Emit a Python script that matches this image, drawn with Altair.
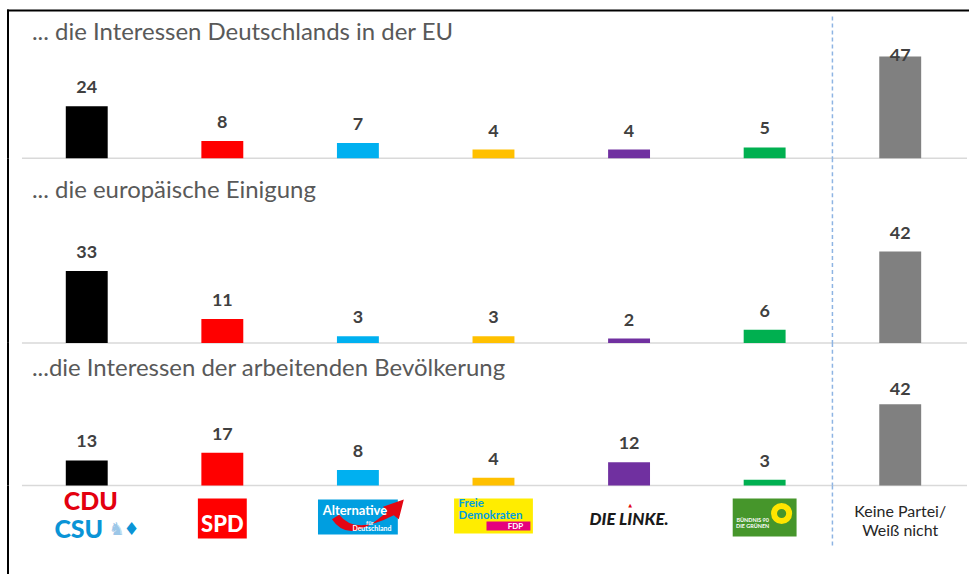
import altair as alt
import pandas as pd

# ---------------- data ----------------
categories = ["CDU/CSU", "SPD", "AfD", "FDP", "DIE LINKE", "GRÜNE", "Keine Partei/Weiß nicht"]
panel_titles = [
    "... die Interessen Deutschlands in der EU",
    "... die europäische Einigung",
    "...die Interessen der arbeitenden Bevölkerung",
]
values_eu = [24, 8, 7, 4, 4, 5, 47]
values_einigung = [33, 11, 3, 3, 2, 6, 42]
values_arbeit = [13, 17, 8, 4, 12, 3, 42]
bar_colors = ["#000000", "#FF0000", "#00B0F0", "#FFC000", "#7030A0", "#00B050", "#808080"]

# ---------------- layout ----------------
W = 964
FONT = "Lato"
xscale = alt.Scale(domain=categories, range=[12, 963], paddingInner=0, paddingOuter=0)
color = alt.Color("cat:N", scale=alt.Scale(domain=categories, range=bar_colors), legend=None)
one = pd.DataFrame({"k": [0]})


def xenc(**kw):
    return alt.X("cat:N", scale=xscale, axis=None, sort=categories, **kw)


def frame_left(h):
    return alt.Chart(one).mark_rule(color="black", strokeWidth=2).encode(
        x=alt.value(1), y=alt.value(0), y2=alt.value(h)
    )


def divider(df, top, bottom):
    last = categories[-1]
    return alt.Chart(df).transform_filter(alt.datum.cat == last).mark_rule(
        color="#8EB4E3", strokeDash=[4, 3], strokeWidth=1.5
    ).encode(x=xenc(bandPosition=0), y=alt.value(top), y2=alt.value(bottom))


def panel(vals, title, h, ppu, title_y, divider_top, top_frame=False):
    D = h / ppu
    df = pd.DataFrame({"cat": categories, "v": vals})
    yscale = alt.Scale(domain=[0, D], nice=False, zero=True)
    bars = alt.Chart(df).mark_bar(size=42).encode(
        x=xenc(), y=alt.Y("v:Q", scale=yscale, axis=None), color=color
    )
    labels = alt.Chart(df).transform_calculate(
        lp=f"min(datum.v, {D - 65 / ppu})"
    ).mark_text(dy=-18, fontSize=18, fontWeight="bold", color="#404040", font=FONT,
                baseline="middle").encode(
        x=xenc(bandPosition=0.5), y=alt.Y("lp:Q", scale=yscale, axis=None), text="v:Q"
    )
    baseline = alt.Chart(one).mark_rule(color="#D9D9D9", strokeWidth=1.5).encode(
        x=alt.value(15), x2=alt.value(962), y=alt.value(h)
    )
    ttl = alt.Chart(pd.DataFrame({"t": [title]})).mark_text(
        align="left", baseline="middle", fontSize=24, color="#595959", font=FONT
    ).encode(x=alt.value(25), y=alt.value(title_y), text="t:N")
    layers = [baseline, divider(df, divider_top, h), bars, labels, ttl, frame_left(h)]
    if top_frame:
        layers.append(alt.Chart(one).mark_rule(color="black", strokeWidth=2).encode(
            x=alt.value(0), x2=alt.value(W), y=alt.value(1)))
    return alt.layer(*layers).properties(width=W, height=h)


p1 = panel(values_eu, panel_titles[0], 149, 2.17, 23, 7, top_frame=True)
p2 = panel(values_einigung, panel_titles[1], 185, 2.18, 33, 0)
p3 = panel(values_arbeit, panel_titles[2], 143, 1.94, 26, 0)

# ---------------- logo row ----------------
LH = 89
cats = pd.DataFrame({"cat": categories})


def pick(name):
    return alt.Chart(cats).transform_filter(alt.datum.cat == name)


def box(name, y1, y2, w, col, xoff=0):
    return pick(name).mark_bar(size=w, color=col, xOffset=xoff).encode(
        x=xenc(), y=alt.value(y1), y2=alt.value(y2))


def txt(name, label, y, size, col, dx=0, weight="normal", style="normal", font=FONT, align="center"):
    return pick(name).mark_text(
        text=label, fontSize=size, color=col, dx=dx, fontWeight=weight, fontStyle=style,
        font=font, align=align, baseline="middle"
    ).encode(x=xenc(bandPosition=0.5), y=alt.value(y))


swoosh = "M-1,0.05 Q-0.5,0.8 0.55,-0.18 L0.42,-0.3 L1,-0.5 L0.86,0.05 L0.72,-0.06 Q-0.35,0.5 -0.8,-0.08 Z"

logos = [
    # CDU / CSU
    txt("CDU/CSU", "CDU", 16, 25, "#E3000F", dx=4, weight=900),
    txt("CDU/CSU", "CSU", 45, 25, "#0A94D6", dx=-8, weight=900),
    txt("CDU/CSU", "♞", 45, 18, "#9CC7E8", dx=30, font="DejaVu Sans"),
    txt("CDU/CSU", "♦", 45, 18, "#0A94D6", dx=45, font="DejaVu Sans"),
    # SPD
    box("SPD", 13, 53, 49, "#FF0000"),
    txt("SPD", "SPD", 40, 22, "white", weight=900),
    # AfD
    box("AfD", 14, 49, 80, "#009EE0"),
    pick("AfD").mark_point(shape=swoosh, size=5184, filled=True, color="#E30613",
                           opacity=1, xOffset=10).encode(x=xenc(bandPosition=0.5), y=alt.value(32)),
    txt("AfD", "Alternative", 25, 13, "white", dx=-3, weight="bold"),
    txt("AfD", "für", 37, 6, "white", dx=12, weight="bold"),
    txt("AfD", "Deutschland", 44, 7, "white", dx=14, weight="bold"),
    # FDP
    box("FDP", 13, 48, 79, "#FFED00"),
    txt("FDP", "Freie", 18, 11.5, "#009EE0", dx=-35, weight="bold", align="left"),
    txt("FDP", "Demokraten", 30, 11.5, "#009EE0", dx=-35, weight="bold", align="left"),
    box("FDP", 36, 45, 44, "#E5007D", xoff=15),
    txt("FDP", "FDP", 41, 8, "white", dx=22, weight="bold"),
    # DIE LINKE
    txt("DIE LINKE", "DIE LINKE.", 34, 17, "#1A1A1A", weight=900, style="italic"),
    txt("DIE LINKE", "▲", 19, 5, "#E30613", dx=1, font="DejaVu Sans"),
    # GRÜNE
    box("GRÜNE", 13, 51, 64, "#46962B"),
    pick("GRÜNE").mark_point(shape="circle", size=230, filled=False, strokeWidth=6,
                             color="#FFE500", opacity=1, xOffset=17).encode(
        x=xenc(bandPosition=0.5), y=alt.value(28)),
    txt("GRÜNE", "BÜNDNIS 90", 34, 5.5, "white", dx=-12, weight="bold"),
    txt("GRÜNE", "DIE GRÜNEN", 40, 5.5, "white", dx=-12, weight="bold"),
    # Keine Partei
    txt("Keine Partei/Weiß nicht", "Keine Partei/", 26, 16, "#262626"),
    txt("Keine Partei/Weiß nicht", "Weiß nicht", 46, 16, "#262626"),
]

logo_row = alt.layer(
    divider(cats, 0, 62), *logos, frame_left(LH)
).properties(width=W, height=LH)

chart = alt.vconcat(p1, p2, p3, logo_row, spacing=0, bounds="flush").properties(
    padding={"left": 6, "top": 8, "right": 0, "bottom": 0},
    background="white",
).configure_view(stroke=None).configure_concat(spacing=0)

chart.save("out.html", embed_options={"renderer": "svg", "actions": False})
